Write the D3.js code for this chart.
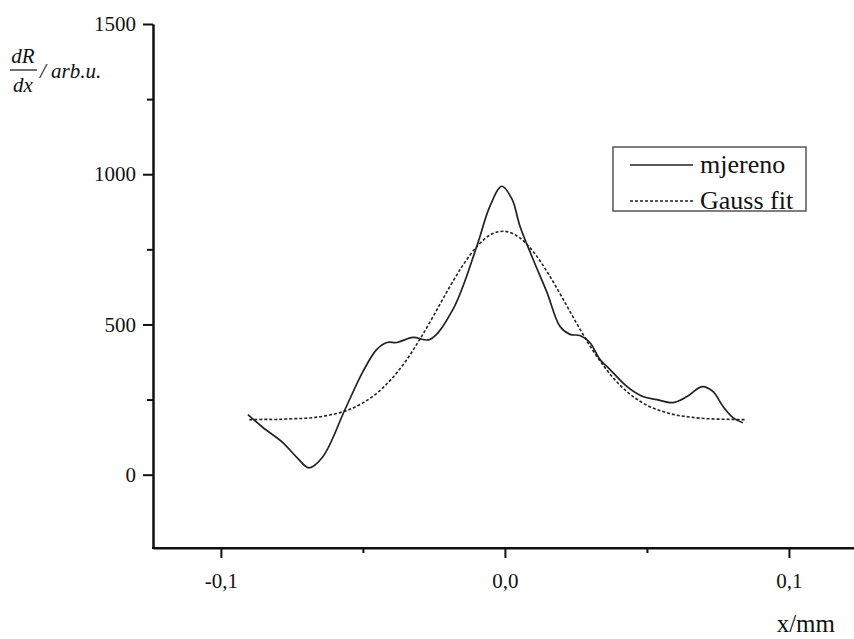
<!DOCTYPE html>
<html><head><meta charset="utf-8">
<script src="https://cdn.jsdelivr.net/npm/d3@7"></script>
</head><body style="margin:0;background:#fff"><svg id="c" width="854" height="639" style="display:block;font-family:'Liberation Serif'"></svg>
<script>
// measured curve (x in mm, dR/dx in arb.u.)
const measX = [-0.0905,-0.0852,-0.0782,-0.0732,-0.0690,-0.0641,-0.0563,-0.0500,-0.0451,-0.0415,-0.0380,-0.0324,-0.0264,-0.0183,-0.0099,-0.0053,-0.0011,0.0025,0.0053,0.0099,0.0148,0.0194,0.0229,0.0264,0.0299,0.0335,0.0370,0.0430,0.0486,0.0535,0.0592,0.0641,0.0694,0.0732,0.0768,0.0803,0.0838];
const measY = [200,157,107,57,23,60,217,343,417,440,440,457,450,550,760,893,960,917,827,717,607,493,467,463,440,383,350,293,260,250,240,260,293,277,227,190,173];
// Gauss fit curve
const fitX = [-0.090,-0.085,-0.080,-0.075,-0.070,-0.065,-0.060,-0.055,-0.050,-0.045,-0.040,-0.035,-0.030,-0.025,-0.020,-0.015,-0.010,-0.005,0.000,0.005,0.010,0.015,0.020,0.025,0.030,0.035,0.040,0.045,0.050,0.055,0.060,0.065,0.070,0.075,0.080,0.085];
const fitY = [183,184,184,186,188,193,202,216,239,272,318,377,450,531,616,694,758,799,810,790,742,673,592,508,428,359,303,261,231,212,199,192,187,185,184,183];
const xTicks = [-0.1,0.0,0.1];
const xMinor = [-0.05,0.05];
const xTickLabels = ["-0,1","0,0","0,1"];
const yTicks = [0,500,1000,1500];
const yMinor = [250,750,1250];
const legendLabels = ["mjereno","Gauss fit"];

const FONT = "Liberation Serif";
const svg = d3.select("#c");
const x = d3.scaleLinear().domain([-0.1239,0.1229]).range([153,854]);
const y = d3.scaleLinear().domain([-244,1500]).range([548,24]);

// axes
const ax = svg.append("g").attr("transform","translate(0,548)");
ax.call(d3.axisBottom(x).tickValues(xTicks).tickSize(10).tickSizeOuter(0).tickFormat((d,i)=>xTickLabels[i]));
ax.append("g").call(d3.axisBottom(x).tickValues(xMinor).tickSize(5).tickSizeOuter(0).tickFormat(""));
ax.selectAll(".domain").attr("stroke","#111").attr("stroke-width",2);
ax.selectAll(".tick line").attr("stroke","#111").attr("stroke-width",2);
ax.selectAll(".tick text").attr("font-size",21).attr("dy","1.3em");
ax.select(".domain").attr("d","M152,0H854");

const ay = svg.append("g").attr("transform","translate(153,0)");
ay.call(d3.axisLeft(y).tickValues(yTicks).tickSize(10).tickSizeOuter(0).tickPadding(7).tickFormat(d3.format("d")));
ay.append("g").call(d3.axisLeft(y).tickValues(yMinor).tickSize(6).tickSizeOuter(0).tickFormat(""));
ay.selectAll(".domain").attr("stroke","#111").attr("stroke-width",2);
ay.selectAll(".tick line").attr("stroke","#111").attr("stroke-width",2);
ay.selectAll(".tick text").attr("font-size",21);
svg.selectAll("g").attr("font-family",FONT);

const line = d3.line().x(d=>x(d[0])).y(d=>y(d[1])).curve(d3.curveCatmullRom.alpha(0.5));
svg.append("path").datum(fitX.map((v,i)=>[v,fitY[i]])).attr("d",line)
  .attr("fill","none").attr("stroke","#222").attr("stroke-width",1.6).attr("stroke-dasharray","3,2");
svg.append("path").datum(measX.map((v,i)=>[v,measY[i]])).attr("d",line)
  .attr("fill","none").attr("stroke","#222").attr("stroke-width",1.7);

// axis titles
svg.append("text").attr("x",835).attr("y",632).attr("text-anchor","end").attr("font-size",25).text("x/mm");
const yl = svg.append("g").attr("font-family",FONT);
yl.append("text").attr("x",23).attr("y",63).attr("text-anchor","middle").attr("font-size",21).attr("font-style","italic").text("dR");
yl.append("line").attr("x1",10).attr("x2",37).attr("y1",70).attr("y2",70).attr("stroke","#111").attr("stroke-width",1.2);
yl.append("text").attr("x",23).attr("y",92).attr("text-anchor","middle").attr("font-size",21).attr("font-style","italic").text("dx");
yl.append("text").attr("x",40).attr("y",78).attr("font-size",21).attr("font-style","italic").text("/ arb.u.");

// legend
const lg = svg.append("g").attr("font-family",FONT);
lg.append("rect").attr("x",613).attr("y",147).attr("width",193).attr("height",64).attr("fill","#fff").attr("stroke","#555").attr("stroke-width",1.5);
legendLabels.forEach((t,i)=>{
  const yy = 165 + i*36;
  lg.append("line").attr("x1",630).attr("x2",693).attr("y1",yy).attr("y2",yy).attr("stroke","#222").attr("stroke-width",1.7)
    .attr("stroke-dasharray", i===1 ? "3,2" : null);
  lg.append("text").attr("x",700).attr("y",yy+8).attr("font-size",26).text(t);
});

svg.selectAll("text").attr("font-family",FONT).attr("fill","#111");
</script></body></html>
